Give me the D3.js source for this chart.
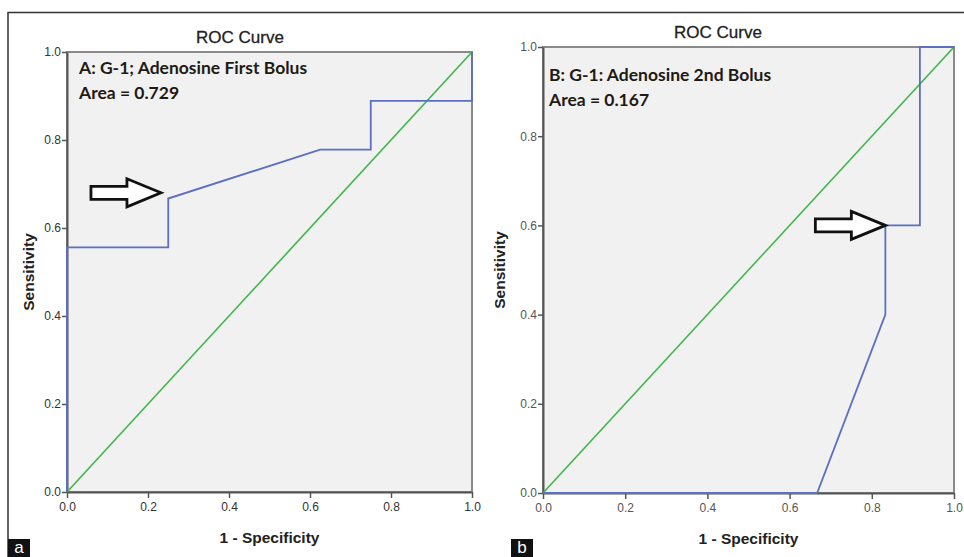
<!DOCTYPE html>
<html>
<head>
<meta charset="utf-8">
<script src="https://cdn.jsdelivr.net/npm/d3@7"></script>
<style>
  body { margin: 0; background: #fff; }
  svg { display: block; }
</style>
</head>
<body>
<div id="chart"></div>
<script>
// tick values shared by both axes
const tickValues = [0, 0.2, 0.4, 0.6, 0.8, 1.0];

// panel A: 1 - specificity / sensitivity
const fprA = [0, 0, 0.25, 0.25, 0.625, 0.75, 0.75, 1, 1];
const tprA = [0, 0.556, 0.556, 0.667, 0.778, 0.778, 0.889, 0.889, 1];

// panel B
const fprB = [0, 0.667, 0.833, 0.833, 0.917, 0.917, 1];
const tprB = [0, 0, 0.4, 0.6, 0.6, 1, 1];

// reference diagonal
const refLine = [0, 1];

// where the arrows point (data units)
const arrowTipA = [0.232, 0.68];
const arrowTipB = [0.833, 0.6];

const labelsA = ["A: G-1; Adenosine First Bolus", "Area = 0.729"];
const labelsB = ["B: G-1: Adenosine 2nd Bolus", "Area = 0.167"];

const width = 964, height = 557;

const svg = d3.select("#chart")
  .append("svg")
  .attr("width", width)
  .attr("height", height);

// outer frame (top + left)
svg.append("path")
  .attr("d", "M8,557 V12.5 H964")
  .attr("fill", "none")
  .attr("stroke", "#333")
  .attr("stroke-width", 1.5);

function drawPanel(p) {
  const x = d3.scaleLinear().domain([0, 1]).range([p.left, p.right]);
  const y = d3.scaleLinear().domain([0, 1]).range([p.bottom, p.top]);
  const g = svg.append("g");

  // plot background
  g.append("rect")
    .attr("x", p.left).attr("y", p.top)
    .attr("width", p.right - p.left)
    .attr("height", p.bottom - p.top)
    .attr("fill", "#f1f1f1")
    .attr("stroke", "#8a8a8a")
    .attr("stroke-width", 2);

  // axes
  g.append("g")
    .attr("transform", `translate(0,${p.bottom})`)
    .call(d3.axisBottom(x).tickValues(tickValues).tickFormat(d3.format(".1f")).tickSize(6).tickSizeOuter(0))
    .call(a => a.select(".domain").attr("stroke", "#555").attr("stroke-width", 2))
    .call(a => a.selectAll(".tick line").attr("stroke", "#555").attr("stroke-width", 1.5))
    .call(a => a.selectAll(".tick text")
      .attr("dy", "0.71em").attr("y", 10)
      .attr("fill", p.tickColor)
      .style("font-family", "'Liberation Sans', Arial, sans-serif")
      .style("font-size", "12px"));

  g.append("g")
    .attr("transform", `translate(${p.left},0)`)
    .call(d3.axisLeft(y).tickValues(tickValues).tickFormat(d3.format(".1f")).tickSize(5).tickSizeOuter(0))
    .call(a => a.select(".domain").attr("stroke", "#555").attr("stroke-width", 2))
    .call(a => a.selectAll(".tick line").attr("stroke", "#555").attr("stroke-width", 1.5))
    .call(a => a.selectAll(".tick text")
      .attr("x", -6)
      .attr("fill", p.tickColor)
      .style("font-family", "'Liberation Sans', Arial, sans-serif")
      .style("font-size", "12px"));

  // diagonal reference
  g.append("path")
    .datum(refLine)
    .attr("fill", "none")
    .attr("stroke", "#3fb54a")
    .attr("stroke-width", 1.6)
    .attr("d", d3.line().x(d => x(d)).y(d => y(d)));

  // ROC curve
  g.append("path")
    .datum(d3.zip(p.fpr, p.tpr))
    .attr("fill", "none")
    .attr("stroke", "#5b6fc4")
    .attr("stroke-width", 1.8)
    .attr("d", d3.line().x(d => x(d[0])).y(d => y(d[1])));

  // titles
  g.append("text")
    .attr("x", p.titleX).attr("y", p.titleY)
    .attr("text-anchor", "middle")
    .style("font-family", "'Liberation Sans', Arial, sans-serif")
    .style("font-size", "17px")
    .style("stroke", "#222").style("stroke-width", 0.3)
    .attr("fill", "#222")
    .text("ROC Curve");

  g.append("text")
    .attr("x", (p.left + p.right) / 2).attr("y", p.bottom + 51)
    .attr("text-anchor", "middle")
    .style("font-family", "'Liberation Sans', Arial, sans-serif")
    .style("font-size", "15.5px")
    .style("font-weight", "bold")
    .attr("fill", "#222")
    .text("1 - Specificity");

  g.append("text")
    .attr("transform", `translate(${p.ylabX},${(p.top + p.bottom) / 2}) rotate(-90)`)
    .attr("text-anchor", "middle")
    .style("font-family", "'Liberation Sans', Arial, sans-serif")
    .style("font-size", "15.5px")
    .style("font-weight", "bold")
    .attr("fill", "#222")
    .text("Sensitivity");

  // annotation
  g.selectAll(".note")
    .data(p.labels)
    .enter()
    .append("text")
    .attr("x", p.noteX)
    .attr("y", (d, i) => p.noteY + i * 24.5)
    .style("font-family", "Lato, 'Open Sans', sans-serif")
    .style("font-size", "17.5px")
    .style("font-weight", "bold")
    .attr("fill", "#1e1a14")
    .text(d => d);

  // hollow arrow pointing at the curve
  const tx = x(p.tip[0]), ty = y(p.tip[1]);
  const arrow = [
    [0, 0], [-34, -14], [-34, -6.5], [-70, -6.5],
    [-70, 6.5], [-34, 6.5], [-34, 14]
  ].map(d => [tx + d[0], ty + d[1]]);
  g.append("path")
    .attr("d", d3.line()(arrow) + "Z")
    .attr("fill", "#fff")
    .attr("stroke", "#111")
    .attr("stroke-width", 2.8)
    .attr("stroke-linejoin", "miter");

  // panel letter
  g.append("rect")
    .attr("x", p.letterX).attr("y", 539)
    .attr("width", 22).attr("height", 18)
    .attr("fill", "#111");
  g.append("text")
    .attr("x", p.letterX + 11).attr("y", 553)
    .attr("text-anchor", "middle")
    .style("font-family", "'Liberation Sans', Arial, sans-serif")
    .style("font-size", "17px")
    .attr("fill", "#fff")
    .text(p.letter);
}

drawPanel({
  left: 67, right: 472, top: 52, bottom: 492,
  fpr: fprA, tpr: tprA, labels: labelsA, tip: arrowTipA,
  noteX: 79, noteY: 74,
  titleX: 240, titleY: 43, ylabX: 34, letter: "a", letterX: 8,
  tickColor: "#333"
});

drawPanel({
  left: 543, right: 954, top: 47, bottom: 493,
  fpr: fprB, tpr: tprB, labels: labelsB, tip: arrowTipB,
  noteX: 549, noteY: 81,
  titleX: 718, titleY: 38, ylabX: 505, letter: "b", letterX: 511,
  tickColor: "#555"
});
</script>
</body>
</html>
